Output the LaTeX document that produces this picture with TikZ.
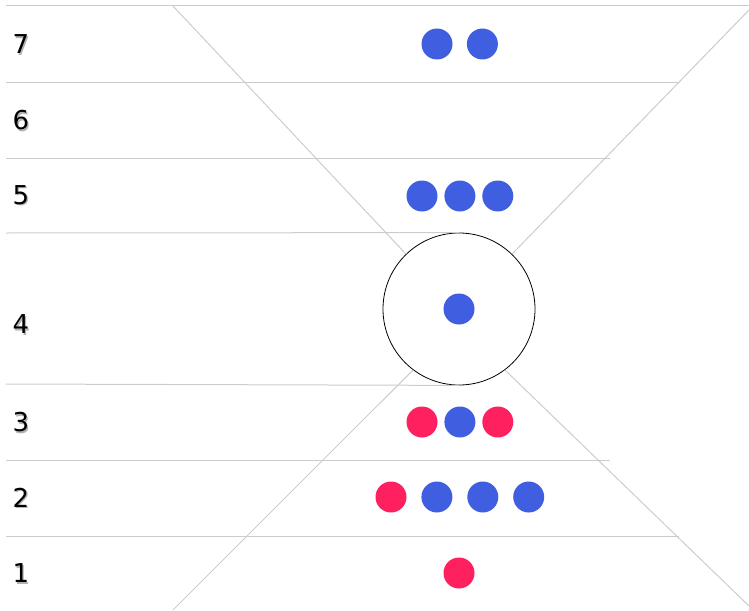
\documentclass[tikz,border=0pt]{standalone}
\usepackage{fontspec}
\setmainfont{DejaVu Sans}
\usetikzlibrary{positioning}
\definecolor{ballblue}{RGB}{64,94,224}
\definecolor{ballred}{RGB}{255,32,96}
\newcommand{\lvltext}[1]{\makebox[0pt][l]{\hspace{1.2pt}\raisebox{-1.2pt}{\color{black!30}#1}}#1}

\begin{document}
\begin{tikzpicture}[
  x=1pt, y=-1pt,
  rule/.style={draw=black!20, line width=1pt},
  lvl/.style={font=\fontsize{26}{28}\selectfont, inner sep=0pt},
  ball/.style={circle, fill=#1, minimum size=31pt, inner sep=0pt},
  node distance=14pt]
\useasboundingbox (0,0) rectangle (749,610);
% level lines
\draw[rule] (6,6) -- (749,6);
\draw[rule] (6,82) -- (679,82);
\draw[rule] (6,158) -- (610,158);
\draw[rule] (6,460) -- (610,460);
\draw[rule] (6,536) -- (679,536);
% event
\node[circle, draw=black, line width=0.8pt, minimum size=152pt, inner sep=0pt] (ev) at (459,309) {};
\node[ball=ballblue] (e4) at (ev) {};
\draw[rule] (6,233) -- (ev.north);
\draw[rule] (6,384) -- (ev.south);
% cone
\coordinate (ul) at (173,6);
\coordinate (ur) at (749,10);
\coordinate (ll) at (173,610);
\coordinate (lr) at (749,606);
\draw[rule] (ev.134) -- (ul);
\draw[rule] (ev.46) -- (ur);
\draw[rule] (ev.233) -- (ll);
\draw[rule] (ev.307) -- (lr);
% labels
\node[lvl] (l7) at (21,45) {\lvltext{7}};
\node[lvl] (l6) at (21,121) {\lvltext{6}};
\node[lvl] (l5) at (21,196) {\lvltext{5}};
\node[lvl] (l4) at (21,325) {\lvltext{4}};
\node[lvl] (l3) at (21,423) {\lvltext{3}};
\node[lvl] (l2) at (21,498) {\lvltext{2}};
\node[lvl] (l1) at (21,574) {\lvltext{1}};
% level 7
\node[ball=ballblue] (a7) at (437,44) {};
\node[ball=ballblue, right=of a7] (b7) {};
% level 5
\node[ball=ballblue] (a5) at (422,196) {};
\node[ball=ballblue, right=6.5pt of a5] (b5) {};
\node[ball=ballblue, right=6.5pt of b5] (c5) {};
% level 3
\node[ball=ballred] (a3) at (422,422) {};
\node[ball=ballblue, right=6.5pt of a3] (b3) {};
\node[ball=ballred, right=6.5pt of b3] (c3) {};
% level 2
\node[ball=ballred] (a2) at (391,497) {};
\node[ball=ballblue, right=14.5pt of a2] (b2) {};
\node[ball=ballblue, right=14.5pt of b2] (c2) {};
\node[ball=ballblue, right=14.5pt of c2] (d2) {};
% level 1
\node[ball=ballred] (a1) at (459,573) {};
\end{tikzpicture}
\end{document}
